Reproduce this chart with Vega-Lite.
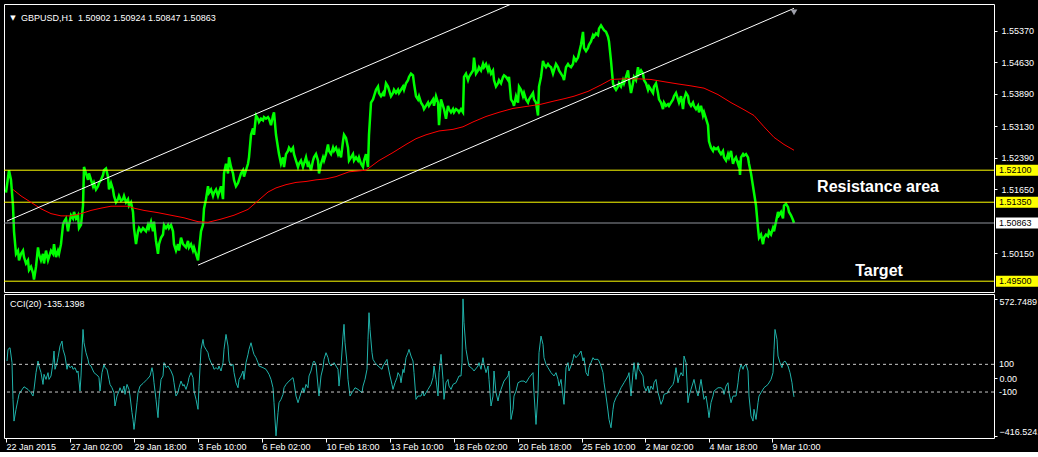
{
"$schema": "https://vega.github.io/schema/vega-lite/v6.json",
"background": "#000000",
"padding": {"left": 3, "top": 3, "right": 0, "bottom": 0},
"spacing": 2,
"bounds": "flush",
"config": {
  "view": {"stroke": "#ffffff", "strokeWidth": 1},
  "axis": {"domain": false, "grid": false, "labelFont": "Liberation Sans", "labelFontSize": 9, "labelColor": "#ffffff", "tickColor": "#ffffff", "title": null, "labelOverlap": false, "labelBound": false, "labelFlush": false}
},
"datasets": {
"price": [
{"i":2,"p":1.51573},{"i":5,"p":1.521},{"i":7,"p":1.51874},{"i":9,"p":1.51271},{"i":10,"p":1.50668},{"i":12,"p":1.50141},{"i":14,"p":1.50216},{"i":15,"p":1.4999},{"i":17,"p":1.50141},{"i":19,"p":1.50216},{"i":20,"p":1.50065},{"i":22,"p":1.49915},{"i":24,"p":1.4999},{"i":25,"p":1.49764},{"i":27,"p":1.49839},{"i":29,"p":1.49689},{"i":30,"p":1.49538},{"i":32,"p":1.49839},{"i":34,"p":1.50291},{"i":35,"p":1.50141},{"i":37,"p":1.4999},{"i":39,"p":1.50141},{"i":40,"p":1.49915},{"i":42,"p":1.50216},{"i":44,"p":1.4999},{"i":45,"p":1.50065},{"i":47,"p":1.50216},{"i":49,"p":1.50141},{"i":50,"p":1.50367},{"i":52,"p":1.50065},{"i":54,"p":1.50216},{"i":55,"p":1.50141},{"i":57,"p":1.50367},{"i":59,"p":1.50819},{"i":60,"p":1.50894},{"i":62,"p":1.5097},{"i":64,"p":1.50668},{"i":65,"p":1.50819},{"i":67,"p":1.51045},{"i":69,"p":1.5097},{"i":70,"p":1.51121},{"i":72,"p":1.5097},{"i":74,"p":1.51045},{"i":75,"p":1.50744},{"i":77,"p":1.50819},{"i":79,"p":1.51271},{"i":80,"p":1.52175},{"i":82,"p":1.52025},{"i":84,"p":1.51874},{"i":85,"p":1.52025},{"i":87,"p":1.51874},{"i":89,"p":1.51723},{"i":90,"p":1.51799},{"i":92,"p":1.51648},{"i":94,"p":1.51723},{"i":95,"p":1.51799},{"i":97,"p":1.51874},{"i":99,"p":1.51987},{"i":100,"p":1.521},{"i":102,"p":1.52138},{"i":104,"p":1.5195},{"i":105,"p":1.51648},{"i":107,"p":1.51799},{"i":109,"p":1.51648},{"i":110,"p":1.51497},{"i":112,"p":1.51347},{"i":114,"p":1.51422},{"i":115,"p":1.51497},{"i":117,"p":1.51384},{"i":119,"p":1.51422},{"i":120,"p":1.51497},{"i":122,"p":1.51347},{"i":124,"p":1.51422},{"i":125,"p":1.51271},{"i":127,"p":1.51347},{"i":129,"p":1.51121},{"i":130,"p":1.50744},{"i":132,"p":1.50367},{"i":134,"p":1.50668},{"i":135,"p":1.50744},{"i":137,"p":1.50668},{"i":139,"p":1.50744},{"i":142,"p":1.50668},{"i":144,"p":1.50819},{"i":145,"p":1.50744},{"i":147,"p":1.50894},{"i":149,"p":1.50668},{"i":150,"p":1.50894},{"i":152,"p":1.50442},{"i":154,"p":1.50141},{"i":155,"p":1.50367},{"i":157,"p":1.50518},{"i":159,"p":1.50593},{"i":160,"p":1.50819},{"i":162,"p":1.50744},{"i":164,"p":1.50819},{"i":165,"p":1.50744},{"i":167,"p":1.50819},{"i":169,"p":1.50668},{"i":170,"p":1.50367},{"i":172,"p":1.50216},{"i":174,"p":1.50367},{"i":175,"p":1.50216},{"i":177,"p":1.50518},{"i":179,"p":1.50367},{"i":182,"p":1.50291},{"i":184,"p":1.50442},{"i":185,"p":1.50291},{"i":187,"p":1.50367},{"i":189,"p":1.50216},{"i":190,"p":1.50291},{"i":192,"p":1.50141},{"i":194,"p":1.4999},{"i":195,"p":1.50216},{"i":197,"p":1.50668},{"i":199,"p":1.50819},{"i":200,"p":1.51196},{"i":202,"p":1.51422},{"i":204,"p":1.51723},{"i":205,"p":1.51573},{"i":207,"p":1.51648},{"i":209,"p":1.51497},{"i":210,"p":1.51573},{"i":212,"p":1.51648},{"i":214,"p":1.51497},{"i":215,"p":1.51573},{"i":217,"p":1.51723},{"i":219,"p":1.51422},{"i":220,"p":1.52025},{"i":222,"p":1.52251},{"i":224,"p":1.52025},{"i":225,"p":1.52401},{"i":227,"p":1.52175},{"i":229,"p":1.52025},{"i":230,"p":1.51874},{"i":232,"p":1.51723},{"i":234,"p":1.51799},{"i":235,"p":1.51874},{"i":237,"p":1.52025},{"i":239,"p":1.521},{"i":240,"p":1.5195},{"i":242,"p":1.521},{"i":244,"p":1.52251},{"i":245,"p":1.52401},{"i":247,"p":1.52929},{"i":249,"p":1.5308},{"i":250,"p":1.52929},{"i":252,"p":1.53381},{"i":254,"p":1.53306},{"i":255,"p":1.5323},{"i":257,"p":1.53306},{"i":259,"p":1.53268},{"i":260,"p":1.53343},{"i":262,"p":1.53306},{"i":264,"p":1.53343},{"i":265,"p":1.53306},{"i":267,"p":1.53155},{"i":269,"p":1.53381},{"i":270,"p":1.53456},{"i":272,"p":1.52929},{"i":274,"p":1.52627},{"i":275,"p":1.52477},{"i":277,"p":1.52251},{"i":279,"p":1.52401},{"i":280,"p":1.52175},{"i":282,"p":1.52477},{"i":284,"p":1.52552},{"i":285,"p":1.52627},{"i":287,"p":1.52552},{"i":289,"p":1.52627},{"i":290,"p":1.52477},{"i":292,"p":1.52326},{"i":294,"p":1.52175},{"i":295,"p":1.52251},{"i":297,"p":1.52326},{"i":299,"p":1.52175},{"i":300,"p":1.52251},{"i":302,"p":1.52401},{"i":304,"p":1.52175},{"i":305,"p":1.52251},{"i":307,"p":1.521},{"i":309,"p":1.52326},{"i":310,"p":1.52401},{"i":312,"p":1.52477},{"i":314,"p":1.52326},{"i":315,"p":1.52025},{"i":317,"p":1.52251},{"i":319,"p":1.52401},{"i":320,"p":1.52326},{"i":322,"p":1.52477},{"i":324,"p":1.52703},{"i":325,"p":1.52552},{"i":327,"p":1.52477},{"i":329,"p":1.52627},{"i":330,"p":1.52552},{"i":332,"p":1.52627},{"i":334,"p":1.52477},{"i":335,"p":1.52552},{"i":337,"p":1.52401},{"i":339,"p":1.52778},{"i":340,"p":1.52929},{"i":342,"p":1.52853},{"i":344,"p":1.52627},{"i":345,"p":1.52326},{"i":347,"p":1.52401},{"i":349,"p":1.52477},{"i":350,"p":1.52326},{"i":352,"p":1.52401},{"i":354,"p":1.52326},{"i":355,"p":1.52401},{"i":357,"p":1.52251},{"i":359,"p":1.52175},{"i":360,"p":1.52326},{"i":362,"p":1.52477},{"i":364,"p":1.52175},{"i":365,"p":1.52929},{"i":367,"p":1.53683},{"i":369,"p":1.53758},{"i":370,"p":1.53833},{"i":372,"p":1.53984},{"i":374,"p":1.54059},{"i":375,"p":1.53909},{"i":377,"p":1.53833},{"i":379,"p":1.53909},{"i":380,"p":1.53833},{"i":382,"p":1.54135},{"i":384,"p":1.54059},{"i":385,"p":1.53984},{"i":387,"p":1.53833},{"i":389,"p":1.53909},{"i":390,"p":1.53984},{"i":392,"p":1.53909},{"i":394,"p":1.53984},{"i":395,"p":1.53909},{"i":397,"p":1.53984},{"i":399,"p":1.54059},{"i":400,"p":1.53984},{"i":402,"p":1.54135},{"i":404,"p":1.5421},{"i":405,"p":1.54285},{"i":407,"p":1.54361},{"i":409,"p":1.54323},{"i":410,"p":1.54135},{"i":412,"p":1.53833},{"i":414,"p":1.53758},{"i":415,"p":1.53833},{"i":417,"p":1.53683},{"i":419,"p":1.53607},{"i":420,"p":1.53532},{"i":422,"p":1.53607},{"i":424,"p":1.53683},{"i":425,"p":1.53607},{"i":427,"p":1.53683},{"i":429,"p":1.53758},{"i":430,"p":1.53607},{"i":432,"p":1.53833},{"i":434,"p":1.53683},{"i":435,"p":1.53155},{"i":437,"p":1.53758},{"i":439,"p":1.53607},{"i":440,"p":1.53532},{"i":442,"p":1.53306},{"i":444,"p":1.53607},{"i":445,"p":1.53532},{"i":447,"p":1.53456},{"i":449,"p":1.53532},{"i":450,"p":1.53456},{"i":452,"p":1.53532},{"i":454,"p":1.53494},{"i":455,"p":1.53456},{"i":457,"p":1.53532},{"i":459,"p":1.53456},{"i":460,"p":1.54285},{"i":462,"p":1.54361},{"i":464,"p":1.5421},{"i":465,"p":1.54285},{"i":467,"p":1.54361},{"i":469,"p":1.54436},{"i":470,"p":1.54738},{"i":472,"p":1.54361},{"i":474,"p":1.54436},{"i":475,"p":1.54512},{"i":477,"p":1.54436},{"i":479,"p":1.54587},{"i":480,"p":1.54512},{"i":482,"p":1.54587},{"i":484,"p":1.54436},{"i":485,"p":1.54512},{"i":487,"p":1.54361},{"i":489,"p":1.54436},{"i":490,"p":1.5421},{"i":492,"p":1.54059},{"i":494,"p":1.54135},{"i":495,"p":1.5421},{"i":497,"p":1.54135},{"i":499,"p":1.54285},{"i":500,"p":1.54323},{"i":502,"p":1.54285},{"i":504,"p":1.5421},{"i":505,"p":1.54285},{"i":507,"p":1.53758},{"i":509,"p":1.53683},{"i":510,"p":1.53607},{"i":512,"p":1.53833},{"i":514,"p":1.53683},{"i":515,"p":1.54059},{"i":517,"p":1.53984},{"i":519,"p":1.53833},{"i":520,"p":1.53909},{"i":522,"p":1.53758},{"i":524,"p":1.53683},{"i":525,"p":1.53758},{"i":527,"p":1.53833},{"i":529,"p":1.53909},{"i":530,"p":1.53758},{"i":532,"p":1.53683},{"i":534,"p":1.53381},{"i":535,"p":1.54059},{"i":537,"p":1.54285},{"i":539,"p":1.54662},{"i":540,"p":1.54587},{"i":542,"p":1.54512},{"i":544,"p":1.54587},{"i":545,"p":1.54549},{"i":547,"p":1.54512},{"i":549,"p":1.54361},{"i":550,"p":1.54436},{"i":552,"p":1.54587},{"i":554,"p":1.54512},{"i":555,"p":1.54436},{"i":557,"p":1.54361},{"i":559,"p":1.54285},{"i":560,"p":1.5421},{"i":562,"p":1.54512},{"i":564,"p":1.54587},{"i":565,"p":1.54549},{"i":567,"p":1.54512},{"i":569,"p":1.54587},{"i":570,"p":1.54738},{"i":572,"p":1.54662},{"i":574,"p":1.54738},{"i":577,"p":1.55039},{"i":579,"p":1.55341},{"i":580,"p":1.54964},{"i":582,"p":1.54888},{"i":584,"p":1.54964},{"i":585,"p":1.55039},{"i":587,"p":1.55115},{"i":589,"p":1.55265},{"i":590,"p":1.55228},{"i":592,"p":1.55303},{"i":594,"p":1.55265},{"i":595,"p":1.55416},{"i":597,"p":1.55491},{"i":599,"p":1.55416},{"i":600,"p":1.55378},{"i":602,"p":1.55341},{"i":604,"p":1.55228},{"i":605,"p":1.55115},{"i":607,"p":1.54662},{"i":609,"p":1.54135},{"i":610,"p":1.54059},{"i":612,"p":1.53984},{"i":614,"p":1.54059},{"i":615,"p":1.54135},{"i":617,"p":1.54059},{"i":619,"p":1.5421},{"i":620,"p":1.54135},{"i":622,"p":1.54285},{"i":624,"p":1.54436},{"i":625,"p":1.5421},{"i":627,"p":1.53909},{"i":629,"p":1.54135},{"i":630,"p":1.54285},{"i":632,"p":1.5421},{"i":634,"p":1.54512},{"i":635,"p":1.54361},{"i":637,"p":1.54436},{"i":639,"p":1.54361},{"i":640,"p":1.5421},{"i":642,"p":1.54135},{"i":644,"p":1.53984},{"i":645,"p":1.54059},{"i":647,"p":1.53984},{"i":649,"p":1.53909},{"i":650,"p":1.54059},{"i":652,"p":1.54135},{"i":654,"p":1.53909},{"i":655,"p":1.53758},{"i":657,"p":1.53683},{"i":659,"p":1.53532},{"i":660,"p":1.53683},{"i":662,"p":1.53607},{"i":664,"p":1.53645},{"i":665,"p":1.53607},{"i":667,"p":1.53683},{"i":669,"p":1.53758},{"i":670,"p":1.53833},{"i":672,"p":1.53909},{"i":674,"p":1.53758},{"i":675,"p":1.53683},{"i":677,"p":1.53833},{"i":679,"p":1.53532},{"i":680,"p":1.53758},{"i":682,"p":1.53909},{"i":684,"p":1.53833},{"i":685,"p":1.53683},{"i":687,"p":1.53607},{"i":689,"p":1.53683},{"i":690,"p":1.53607},{"i":692,"p":1.53532},{"i":694,"p":1.53607},{"i":695,"p":1.53456},{"i":697,"p":1.53607},{"i":699,"p":1.53381},{"i":700,"p":1.53456},{"i":702,"p":1.53306},{"i":704,"p":1.53155},{"i":705,"p":1.52778},{"i":707,"p":1.52627},{"i":709,"p":1.52552},{"i":710,"p":1.52627},{"i":712,"p":1.5259},{"i":714,"p":1.52627},{"i":715,"p":1.52552},{"i":717,"p":1.52477},{"i":719,"p":1.52552},{"i":720,"p":1.52401},{"i":722,"p":1.52326},{"i":724,"p":1.52477},{"i":725,"p":1.52401},{"i":727,"p":1.52552},{"i":729,"p":1.52251},{"i":730,"p":1.52326},{"i":732,"p":1.52401},{"i":734,"p":1.52251},{"i":735,"p":1.52326},{"i":736,"p":1.51987},{"i":737,"p":1.52401},{"i":739,"p":1.52477},{"i":740,"p":1.52439},{"i":742,"p":1.52477},{"i":744,"p":1.52401},{"i":745,"p":1.52251},{"i":747,"p":1.52025},{"i":749,"p":1.51723},{"i":750,"p":1.51573},{"i":752,"p":1.51271},{"i":754,"p":1.50744},{"i":755,"p":1.50518},{"i":757,"p":1.50593},{"i":759,"p":1.50367},{"i":760,"p":1.50518},{"i":762,"p":1.50593},{"i":764,"p":1.50555},{"i":765,"p":1.50668},{"i":767,"p":1.50593},{"i":769,"p":1.50744},{"i":770,"p":1.50668},{"i":772,"p":1.50894},{"i":774,"p":1.51121},{"i":775,"p":1.51045},{"i":777,"p":1.51121},{"i":779,"p":1.5097},{"i":780,"p":1.51271},{"i":782,"p":1.51309},{"i":784,"p":1.51233},{"i":785,"p":1.51121},{"i":787,"p":1.51045},{"i":789,"p":1.50932},{"i":790,"p":1.50863}
],
"ma": [
{"i":9,"p":1.51648},{"i":17,"p":1.51497},{"i":27,"p":1.51347},{"i":37,"p":1.51196},{"i":47,"p":1.51083},{"i":57,"p":1.5103},{"i":67,"p":1.5103},{"i":77,"p":1.51083},{"i":87,"p":1.51158},{"i":97,"p":1.51211},{"i":107,"p":1.51256},{"i":117,"p":1.51256},{"i":124,"p":1.51256},{"i":130,"p":1.51211},{"i":140,"p":1.51158},{"i":154,"p":1.51105},{"i":167,"p":1.51045},{"i":180,"p":1.50985},{"i":194,"p":1.50894},{"i":204,"p":1.50879},{"i":217,"p":1.50954},{"i":230,"p":1.51045},{"i":244,"p":1.51181},{"i":254,"p":1.51384},{"i":264,"p":1.51588},{"i":272,"p":1.51685},{"i":282,"p":1.51761},{"i":292,"p":1.51814},{"i":302,"p":1.51836},{"i":312,"p":1.51874},{"i":322,"p":1.51897},{"i":332,"p":1.5195},{"i":345,"p":1.52062},{"i":362,"p":1.521},{"i":375,"p":1.52326},{"i":389,"p":1.52514},{"i":402,"p":1.52703},{"i":412,"p":1.52838},{"i":422,"p":1.52929},{"i":435,"p":1.53019},{"i":449,"p":1.53057},{"i":459,"p":1.53117},{"i":469,"p":1.5323},{"i":482,"p":1.53358},{"i":495,"p":1.53456},{"i":509,"p":1.53547},{"i":522,"p":1.53592},{"i":537,"p":1.53645},{"i":550,"p":1.5372},{"i":560,"p":1.53773},{"i":570,"p":1.53833},{"i":584,"p":1.53946},{"i":597,"p":1.54097},{"i":607,"p":1.54225},{"i":620,"p":1.5424},{"i":634,"p":1.5424},{"i":647,"p":1.54225},{"i":660,"p":1.54173},{"i":674,"p":1.5412},{"i":687,"p":1.54075},{"i":700,"p":1.54022},{"i":714,"p":1.53871},{"i":727,"p":1.53683},{"i":740,"p":1.53517},{"i":750,"p":1.53381},{"i":760,"p":1.53117},{"i":770,"p":1.52869},{"i":780,"p":1.52703},{"i":790,"p":1.52567}
],
"channel": [
{"g":"upper","i":3,"p":1.50909},{"g":"upper","i":510,"p":1.5602},
{"g":"lower","i":194,"p":1.49877},{"g":"lower","i":790,"p":1.55891}
],
"levels": [
{"p":1.521,"lbl":"1.52100","k":"level"},{"p":1.5135,"lbl":"1.51350","k":"level"},{"p":1.495,"lbl":"1.49500","k":"level"},{"p":1.50863,"lbl":"1.50863","k":"bid"}
],
"notes": [
{"t":"Resistance area","i":874,"p":1.5158},{"t":"Target","i":875,"p":1.49613}
],
"cci": [
{"i":3,"v":124},{"i":4,"v":208},{"i":6,"v":220},{"i":8,"v":112},{"i":9,"v":-153},{"i":10,"v":-310},{"i":12,"v":-225},{"i":14,"v":-153},{"i":15,"v":-117},{"i":17,"v":-93},{"i":20,"v":-62},{"i":24,"v":-81},{"i":27,"v":-105},{"i":29,"v":-129},{"i":30,"v":-81},{"i":32,"v":40},{"i":34,"v":124},{"i":35,"v":88},{"i":37,"v":40},{"i":39,"v":-45},{"i":40,"v":28},{"i":42,"v":-9},{"i":44,"v":40},{"i":45,"v":-9},{"i":47,"v":16},{"i":49,"v":112},{"i":50,"v":196},{"i":51,"v":64},{"i":53,"v":112},{"i":54,"v":148},{"i":56,"v":232},{"i":58,"v":268},{"i":59,"v":208},{"i":61,"v":160},{"i":63,"v":64},{"i":64,"v":100},{"i":66,"v":76},{"i":68,"v":88},{"i":69,"v":64},{"i":71,"v":76},{"i":73,"v":40},{"i":74,"v":52},{"i":76,"v":-93},{"i":77,"v":16},{"i":79,"v":352},{"i":80,"v":256},{"i":82,"v":184},{"i":84,"v":136},{"i":85,"v":100},{"i":87,"v":88},{"i":90,"v":40},{"i":94,"v":16},{"i":95,"v":4},{"i":96,"v":-93},{"i":98,"v":40},{"i":100,"v":100},{"i":101,"v":76},{"i":103,"v":64},{"i":105,"v":-9},{"i":106,"v":-45},{"i":108,"v":-69},{"i":110,"v":-105},{"i":111,"v":-201},{"i":113,"v":-129},{"i":115,"v":-93},{"i":116,"v":-69},{"i":118,"v":-105},{"i":120,"v":-57},{"i":121,"v":-117},{"i":123,"v":-45},{"i":125,"v":-81},{"i":126,"v":-129},{"i":128,"v":-249},{"i":129,"v":-298},{"i":130,"v":-370},{"i":131,"v":-310},{"i":133,"v":-177},{"i":134,"v":-105},{"i":136,"v":-57},{"i":139,"v":-38},{"i":143,"v":-9},{"i":146,"v":16},{"i":148,"v":76},{"i":149,"v":40},{"i":150,"v":-33},{"i":152,"v":-153},{"i":154,"v":-285},{"i":155,"v":-153},{"i":157,"v":-9},{"i":159,"v":16},{"i":160,"v":112},{"i":162,"v":76},{"i":164,"v":88},{"i":167,"v":52},{"i":169,"v":16},{"i":170,"v":-33},{"i":172,"v":-129},{"i":174,"v":-105},{"i":175,"v":-69},{"i":177,"v":-21},{"i":179,"v":-57},{"i":180,"v":-45},{"i":182,"v":-81},{"i":184,"v":-33},{"i":185,"v":4},{"i":187,"v":40},{"i":189,"v":4},{"i":190,"v":-93},{"i":192,"v":-153},{"i":194,"v":-225},{"i":195,"v":-57},{"i":197,"v":208},{"i":199,"v":280},{"i":200,"v":232},{"i":202,"v":208},{"i":204,"v":184},{"i":205,"v":148},{"i":207,"v":112},{"i":209,"v":88},{"i":210,"v":64},{"i":212,"v":76},{"i":214,"v":64},{"i":215,"v":88},{"i":217,"v":52},{"i":219,"v":112},{"i":220,"v":208},{"i":222,"v":316},{"i":224,"v":232},{"i":225,"v":124},{"i":227,"v":88},{"i":229,"v":100},{"i":230,"v":40},{"i":232,"v":-33},{"i":234,"v":-69},{"i":235,"v":-9},{"i":237,"v":16},{"i":239,"v":52},{"i":240,"v":-9},{"i":242,"v":112},{"i":244,"v":172},{"i":245,"v":208},{"i":247,"v":256},{"i":249,"v":196},{"i":250,"v":172},{"i":252,"v":148},{"i":254,"v":112},{"i":255,"v":88},{"i":259,"v":76},{"i":262,"v":64},{"i":265,"v":28},{"i":267,"v":-9},{"i":269,"v":-69},{"i":270,"v":-177},{"i":272,"v":-416.5},{"i":274,"v":-249},{"i":275,"v":-177},{"i":277,"v":-153},{"i":279,"v":-117},{"i":280,"v":-69},{"i":282,"v":-45},{"i":285,"v":-21},{"i":289,"v":4},{"i":290,"v":-33},{"i":292,"v":-129},{"i":294,"v":-177},{"i":295,"v":-153},{"i":297,"v":-105},{"i":299,"v":-69},{"i":300,"v":-105},{"i":302,"v":-45},{"i":304,"v":-69},{"i":305,"v":16},{"i":307,"v":52},{"i":309,"v":112},{"i":310,"v":124},{"i":312,"v":100},{"i":314,"v":-57},{"i":315,"v":-129},{"i":317,"v":16},{"i":319,"v":76},{"i":320,"v":136},{"i":322,"v":184},{"i":324,"v":148},{"i":325,"v":112},{"i":327,"v":88},{"i":330,"v":112},{"i":334,"v":64},{"i":335,"v":-57},{"i":337,"v":88},{"i":339,"v":304},{"i":340,"v":389},{"i":341,"v":256},{"i":343,"v":112},{"i":344,"v":-9},{"i":346,"v":-129},{"i":348,"v":-105},{"i":351,"v":-69},{"i":354,"v":-81},{"i":358,"v":-105},{"i":359,"v":-57},{"i":361,"v":-9},{"i":363,"v":64},{"i":364,"v":280},{"i":365,"v":473},{"i":366,"v":352},{"i":368,"v":184},{"i":369,"v":136},{"i":371,"v":112},{"i":374,"v":88},{"i":378,"v":64},{"i":379,"v":88},{"i":383,"v":136},{"i":384,"v":88},{"i":386,"v":16},{"i":388,"v":-45},{"i":389,"v":-81},{"i":391,"v":-33},{"i":393,"v":4},{"i":394,"v":40},{"i":396,"v":16},{"i":397,"v":-33},{"i":399,"v":64},{"i":400,"v":40},{"i":402,"v":148},{"i":404,"v":184},{"i":405,"v":208},{"i":407,"v":160},{"i":409,"v":124},{"i":410,"v":40},{"i":412,"v":-153},{"i":414,"v":-129},{"i":417,"v":-129},{"i":419,"v":-93},{"i":420,"v":-129},{"i":424,"v":-81},{"i":427,"v":-45},{"i":429,"v":4},{"i":430,"v":88},{"i":432,"v":-9},{"i":434,"v":-129},{"i":435,"v":40},{"i":437,"v":172},{"i":439,"v":-9},{"i":440,"v":-153},{"i":442,"v":-33},{"i":444,"v":-9},{"i":445,"v":-57},{"i":447,"v":-81},{"i":449,"v":-45},{"i":452,"v":-33},{"i":455,"v":16},{"i":457,"v":16},{"i":458,"v":112},{"i":459,"v":572.7},{"i":460,"v":401},{"i":462,"v":208},{"i":464,"v":124},{"i":465,"v":88},{"i":469,"v":64},{"i":470,"v":52},{"i":474,"v":88},{"i":475,"v":112},{"i":477,"v":64},{"i":479,"v":148},{"i":480,"v":100},{"i":482,"v":40},{"i":484,"v":88},{"i":485,"v":-9},{"i":487,"v":-201},{"i":489,"v":-129},{"i":490,"v":52},{"i":492,"v":-105},{"i":494,"v":-165},{"i":495,"v":-129},{"i":497,"v":-81},{"i":500,"v":-21},{"i":504,"v":16},{"i":505,"v":52},{"i":507,"v":-298},{"i":509,"v":-225},{"i":510,"v":-129},{"i":512,"v":-93},{"i":514,"v":-33},{"i":517,"v":-21},{"i":520,"v":-21},{"i":522,"v":-33},{"i":525,"v":4},{"i":529,"v":40},{"i":530,"v":-105},{"i":532,"v":-334},{"i":534,"v":-105},{"i":535,"v":184},{"i":537,"v":304},{"i":539,"v":244},{"i":540,"v":148},{"i":542,"v":100},{"i":544,"v":76},{"i":547,"v":40},{"i":550,"v":16},{"i":552,"v":40},{"i":554,"v":-9},{"i":555,"v":-57},{"i":557,"v":-9},{"i":559,"v":-129},{"i":560,"v":-189},{"i":562,"v":76},{"i":564,"v":112},{"i":565,"v":52},{"i":567,"v":88},{"i":569,"v":136},{"i":570,"v":172},{"i":572,"v":148},{"i":575,"v":172},{"i":577,"v":196},{"i":579,"v":124},{"i":580,"v":148},{"i":582,"v":40},{"i":584,"v":16},{"i":585,"v":76},{"i":587,"v":112},{"i":589,"v":148},{"i":590,"v":136},{"i":594,"v":136},{"i":595,"v":124},{"i":597,"v":88},{"i":599,"v":40},{"i":600,"v":-33},{"i":602,"v":-129},{"i":604,"v":-237},{"i":605,"v":-298},{"i":607,"v":-358},{"i":609,"v":-225},{"i":610,"v":-177},{"i":612,"v":-141},{"i":614,"v":-117},{"i":617,"v":-69},{"i":620,"v":-33},{"i":624,"v":16},{"i":625,"v":40},{"i":627,"v":-129},{"i":629,"v":40},{"i":630,"v":112},{"i":632,"v":-9},{"i":634,"v":112},{"i":635,"v":64},{"i":639,"v":16},{"i":640,"v":-57},{"i":642,"v":-93},{"i":644,"v":-57},{"i":645,"v":-105},{"i":647,"v":-57},{"i":649,"v":-81},{"i":650,"v":-33},{"i":652,"v":-9},{"i":654,"v":-105},{"i":655,"v":-129},{"i":657,"v":-189},{"i":659,"v":-153},{"i":660,"v":-117},{"i":664,"v":-105},{"i":665,"v":-81},{"i":669,"v":-45},{"i":670,"v":-21},{"i":672,"v":76},{"i":674,"v":-33},{"i":675,"v":4},{"i":677,"v":40},{"i":679,"v":16},{"i":680,"v":160},{"i":682,"v":112},{"i":684,"v":-177},{"i":685,"v":-129},{"i":687,"v":-81},{"i":690,"v":-9},{"i":692,"v":-81},{"i":694,"v":-129},{"i":695,"v":-93},{"i":697,"v":-9},{"i":699,"v":-105},{"i":700,"v":-153},{"i":702,"v":-129},{"i":704,"v":-225},{"i":705,"v":-285},{"i":707,"v":-177},{"i":709,"v":-129},{"i":710,"v":-93},{"i":714,"v":-69},{"i":717,"v":-69},{"i":719,"v":-81},{"i":720,"v":-117},{"i":722,"v":-57},{"i":724,"v":-33},{"i":725,"v":-105},{"i":727,"v":-177},{"i":729,"v":-129},{"i":732,"v":-129},{"i":734,"v":-33},{"i":735,"v":40},{"i":737,"v":100},{"i":739,"v":64},{"i":740,"v":88},{"i":742,"v":100},{"i":744,"v":52},{"i":745,"v":-129},{"i":747,"v":-273},{"i":749,"v":-310},{"i":750,"v":-225},{"i":752,"v":-298},{"i":754,"v":-177},{"i":755,"v":-129},{"i":757,"v":-105},{"i":760,"v":-69},{"i":764,"v":-45},{"i":767,"v":-9},{"i":769,"v":40},{"i":770,"v":208},{"i":771,"v":352},{"i":773,"v":280},{"i":774,"v":160},{"i":776,"v":112},{"i":778,"v":76},{"i":779,"v":112},{"i":781,"v":124},{"i":784,"v":88},{"i":786,"v":40},{"i":788,"v":-33},{"i":789,"v":-93},{"i":790,"v":-135.14}
],
"ccilevels": [{"v":100,"lbl":"100"},{"v":-100,"lbl":"-100"}]
},
"vconcat": [
{
  "width": 990,
  "height": 288,
  "layer": [
    {
      "data": {"name": "price"},
      "mark": {"type": "line", "color": "#00ff00", "strokeWidth": 2.5, "clip": true},
      "encoding": {
        "x": {"field": "i", "type": "quantitative", "scale": {"domain": [0, 990], "nice": false, "zero": false}, "axis": {"labels": false, "ticks": false, "domain": false, "grid": false, "title": null, "values": [0]}},
        "y": {"field": "p", "type": "quantitative", "scale": {"domain": [1.49364, 1.55876], "nice": false, "zero": false},
              "axis": {"orient": "right", "title": null, "values": [1.5537, 1.5463, 1.5389, 1.5313, 1.5239, 1.5165, 1.5015], "format": ".5f", "tickSize": 3, "labelPadding": 4, "labelOverlap": false}}
      }
    },
    {
      "data": {"name": "levels"},
      "mark": {"type": "rule", "strokeWidth": 1},
      "encoding": {
        "y": {"field": "p", "type": "quantitative"},
        "color": {"condition": {"test": "datum.k == 'bid'", "value": "#8f939c"}, "value": "#ffff00"}
      }
    },
    {
      "data": {"name": "ma"},
      "mark": {"type": "line", "color": "#ff0000", "strokeWidth": 1, "clip": true},
      "encoding": {
        "x": {"field": "i", "type": "quantitative"},
        "y": {"field": "p", "type": "quantitative"}
      }
    },
    {
      "data": {"name": "channel"},
      "mark": {"type": "line", "color": "#ffffff", "strokeWidth": 1, "clip": true},
      "encoding": {
        "x": {"field": "i", "type": "quantitative"},
        "y": {"field": "p", "type": "quantitative"},
        "detail": {"field": "g"}
      }
    },
    {
      "data": {"name": "levels"},
      "mark": {"type": "bar", "orient": "horizontal", "height": 11},
      "encoding": {
        "x": {"datum": 992, "type": "quantitative"},
        "x2": {"datum": 1034},
        "y": {"field": "p", "type": "quantitative"},
        "color": {"condition": {"test": "datum.k == 'bid'", "value": "#ffffff"}, "value": "#ffff00"}
      }
    },
    {
      "data": {"name": "levels"},
      "mark": {"type": "text", "align": "left", "baseline": "middle", "font": "Liberation Sans", "fontSize": 9, "color": "#000000"},
      "encoding": {
        "x": {"datum": 995, "type": "quantitative"},
        "y": {"field": "p", "type": "quantitative"},
        "text": {"field": "lbl"}
      }
    },
    {
      "data": {"name": "notes"},
      "mark": {"type": "text", "align": "center", "baseline": "alphabetic", "font": "Liberation Sans", "fontSize": 16, "fontWeight": "bold", "color": "#ffffff"},
      "encoding": {
        "x": {"field": "i", "type": "quantitative"},
        "y": {"field": "p", "type": "quantitative"},
        "text": {"field": "t"}
      }
    },
    {
      "data": {"values": [{"t": "GBPUSD,H1\u00a0 1.50902 1.50924 1.50847 1.50863"}]},
      "mark": {"type": "text", "align": "left", "baseline": "middle", "font": "Liberation Sans", "fontSize": 9, "color": "#ffffff"},
      "encoding": {
        "x": {"datum": 17, "type": "quantitative"},
        "y": {"datum": 1.55657, "type": "quantitative"},
        "text": {"field": "t"}
      }
    },
    {
      "data": {"values": [{"t": "▼"}]},
      "mark": {"type": "text", "align": "center", "baseline": "middle", "font": "DejaVu Sans", "fontSize": 7, "color": "#ffffff"},
      "encoding": {
        "x": {"datum": 9, "type": "quantitative"},
        "y": {"datum": 1.55657, "type": "quantitative"},
        "text": {"field": "t"}
      }
    },
    {
      "data": {"values": [{"s": "shift"}]},
      "mark": {"type": "point", "shape": "triangle-down", "size": 45, "filled": true, "color": "#9ea0aa", "opacity": 1},
      "encoding": {
        "x": {"datum": 790, "type": "quantitative"},
        "y": {"datum": 1.55797, "type": "quantitative"}
      }
    }
  ]
},
{
  "width": 990,
  "height": 144,
  "layer": [
    {
      "data": {"name": "cci"},
      "mark": {"type": "line", "color": "#20b2aa", "strokeWidth": 1, "clip": true},
      "encoding": {
        "x": {"field": "i", "type": "quantitative", "scale": {"domain": [0, 990], "nice": false, "zero": false},
              "axis": {"orient": "bottom", "title": null, "values": [2, 66, 130, 194, 258, 322, 386, 450, 514, 578, 641, 705, 768], "tickSize": 4, "labelPadding": 0, "labelAlign": "left", "labelBaseline": "top", "labelOverlap": false,
                       "labelExpr": "['22 Jan 2015','27 Jan 02:00','29 Jan 18:00','3 Feb 10:00','6 Feb 02:00','10 Feb 18:00','13 Feb 10:00','18 Feb 02:00','20 Feb 18:00','25 Feb 10:00','2 Mar 02:00','4 Mar 18:00','9 Mar 10:00'][indexof([2,66,130,194,258,322,386,450,514,578,641,705,768], datum.value)]"}},
        "y": {"field": "v", "type": "quantitative", "scale": {"domain": [-432, 608], "nice": false, "zero": false},
              "axis": {"orient": "right", "title": null, "values": [572.7489, 100, 0, -100, -416.5241], "tickSize": 3, "labelPadding": 2, "labelOverlap": false, "labelBound": false,
                       "labelOffset": {"condition": [{"test": "datum.value > 500", "value": 3}, {"test": "datum.value < -400", "value": -4}], "value": 0},
                       "labelExpr": "datum.value == 0 ? '0.00' : abs(datum.value) < 150 ? '' : format(datum.value, '.4f')"}}
      }
    },
    {
      "data": {"name": "ccilevels"},
      "mark": {"type": "rule", "color": "#c8c8c8", "strokeWidth": 1, "strokeDash": [3, 3]},
      "encoding": {
        "y": {"field": "v", "type": "quantitative"}
      }
    },
    {
      "data": {"name": "ccilevels"},
      "mark": {"type": "text", "align": "left", "baseline": "middle", "font": "Liberation Sans", "fontSize": 9, "color": "#ffffff"},
      "encoding": {
        "x": {"datum": 995, "type": "quantitative"},
        "y": {"field": "v", "type": "quantitative"},
        "text": {"field": "lbl"}
      }
    },
    {
      "data": {"values": [{"t": "CCI(20) -135.1398"}]},
      "mark": {"type": "text", "align": "left", "baseline": "middle", "font": "Liberation Sans", "fontSize": 9, "color": "#ffffff"},
      "encoding": {
        "x": {"datum": 6, "type": "quantitative"},
        "y": {"datum": 533, "type": "quantitative"},
        "text": {"field": "t"}
      }
    }
  ]
}
]
}
